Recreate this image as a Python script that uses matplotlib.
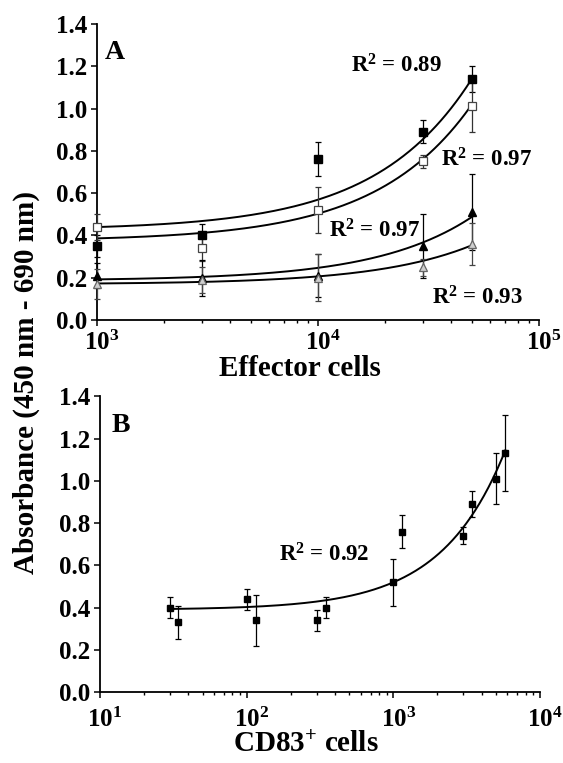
import numpy as np
import matplotlib
matplotlib.use("Agg")
import matplotlib.pyplot as plt
from matplotlib.transforms import ScaledTranslation

plt.rcParams['font.family'] = ['Liberation Serif', 'DejaVu Serif']
plt.rcParams['font.weight'] = 'bold'
plt.rcParams['mathtext.fontset'] = 'custom'
plt.rcParams['mathtext.rm'] = 'Liberation Serif:bold'
plt.rcParams['mathtext.bf'] = 'Liberation Serif:bold'
plt.rcParams['mathtext.it'] = 'Liberation Serif:bold'
plt.rcParams['mathtext.default'] = 'bf'

# ---------------- data: panel A ----------------
effector_cells = [1000, 3000, 10000, 30000, 50000]
sq_filled = [0.35, 0.40, 0.76, 0.89, 1.14]
sq_filled_err = [0.05, 0.055, 0.08, 0.055, 0.06]
sq_open = [0.44, 0.34, 0.52, 0.75, 1.01]
sq_open_err = [0.06, 0.06, 0.11, 0.03, 0.12]
tri_filled = [0.21, 0.20, 0.21, 0.35, 0.51]
tri_filled_err = [0.06, 0.085, 0.10, 0.15, 0.18]
tri_open = [0.17, 0.19, 0.20, 0.25, 0.36]
tri_open_err = [0.07, 0.06, 0.11, 0.04, 0.10]

# linear fits (intercept, slope)
fit_sq_filled = [0.425, 1.44e-5]
fit_sq_open = [0.373, 1.30e-5]
fit_tri_filled = [0.186, 6.06e-6]
fit_tri_open = [0.169, 3.71e-6]

r2_labels_a = ["0.89", "0.97", "0.97", "0.93"]
r2_pos_a = [(14100, 1.20), (35900, 0.757), (11200, 0.423), (32700, 0.104)]

# ---------------- data: panel B ----------------
cd83_cells = [30, 34, 100, 115, 300, 345, 1000, 1150, 3000, 3450, 5000, 5750]
absorb_b = [0.40, 0.33, 0.44, 0.34, 0.34, 0.40, 0.52, 0.76, 0.74, 0.89, 1.01, 1.13]
absorb_b_err = [0.05, 0.08, 0.05, 0.12, 0.05, 0.05, 0.11, 0.08, 0.04, 0.06, 0.12, 0.18]
fit_b = [0.39, 1.30e-4]
fit_b_range = [30, 5800]
r2_label_b = "0.92"
r2_pos_b = (166, 0.649)

yticks = [0.0, 0.2, 0.4, 0.6, 0.8, 1.0, 1.2, 1.4]
xticks_a = [1e3, 1e4, 1e5]
xticklabels_a = [r'$\mathbf{10^{3}}$', r'$\mathbf{10^{4}}$', r'$\mathbf{10^{5}}$']
xticks_b = [1e1, 1e2, 1e3, 1e4]
xticklabels_b = [r'$\mathbf{10^{1}}$', r'$\mathbf{10^{2}}$', r'$\mathbf{10^{3}}$', r'$\mathbf{10^{4}}$']

fig = plt.figure(figsize=(5.63, 7.63), dpi=100)
axA = fig.add_axes([0.1723, 0.5806, 0.785, 0.388])
axB = fig.add_axes([0.1776, 0.0927, 0.7815, 0.388])

TICK_FS = 18
LAB_FS = 21
R2_FS = 16.5


def style_axis(ax, xticks, xlabels, pad_x):
    ax.set_xscale('log')
    for s in ['top', 'right']:
        ax.spines[s].set_visible(False)
    for s in ['left', 'bottom']:
        ax.spines[s].set_linewidth(1.3)
    ax.set_ylim(0, 1.4)
    ax.set_yticks(yticks)
    ax.set_yticklabels([f"{v:.1f}" for v in yticks])
    ax.set_xticks(xticks)
    ax.set_xticklabels(xlabels)
    ax.tick_params(axis='both', which='major', direction='out', length=4, width=1.1,
                   labelsize=TICK_FS)
    ax.tick_params(axis='y', pad=3)
    ax.tick_params(axis='x', pad=pad_x)
    ax.tick_params(axis='x', which='minor', direction='out', length=2.5, width=1.0)
    for lab in ax.get_xticklabels():
        lab.set_transform(lab.get_transform() + ScaledTranslation(0.05, 0, fig.dpi_scale_trans))


# ---------------- panel A ----------------
series = [
    (sq_filled, sq_filled_err, fit_sq_filled, dict(marker='s', ms=5.5, mfc='black', mec='black'), 'black'),
    (sq_open, sq_open_err, fit_sq_open, dict(marker='s', ms=5.5, mfc='white', mec='#444444', mew=0.9), '#333333'),
    (tri_filled, tri_filled_err, fit_tri_filled, dict(marker='^', ms=6, mfc='black', mec='black'), 'black'),
    (tri_open, tri_open_err, fit_tri_open, dict(marker='^', ms=6, mfc='#cfcfcf', mec='#666666', mew=0.9), '#444444'),
]
xfit_a = np.logspace(np.log10(effector_cells[0]), np.log10(effector_cells[-1]), 300)
for vals, errs, fit, mstyle, ecol in series:
    axA.plot(xfit_a, fit[0] + fit[1] * xfit_a, color='black', lw=1.4, zorder=2)
    axA.errorbar(effector_cells, vals, yerr=errs, fmt='none', ecolor=ecol, elinewidth=0.9,
                 capsize=2, capthick=0.9, zorder=3, clip_on=False)
    axA.plot(effector_cells, vals, ls='none', zorder=4, clip_on=False, **mstyle)

axA.set_xlim(1e3, 1e5)
style_axis(axA, xticks_a, xticklabels_a, 4)
axA.set_xlabel('Effector cells', fontsize=LAB_FS, fontweight='bold', labelpad=0)
axA.xaxis.label.set_x(0.46)
for lab, (x, y) in zip(r2_labels_a, r2_pos_a):
    axA.text(x, y, r'R$^{2}$ = ' + lab, fontsize=R2_FS, fontweight='bold', ha='left', va='center')
axA.text(0.018, 0.905, 'A', transform=axA.transAxes, fontsize=20, fontweight='bold',
         ha='left', va='center')

# ---------------- panel B ----------------
xfit_b = np.logspace(np.log10(fit_b_range[0]), np.log10(fit_b_range[1]), 300)
axB.plot(xfit_b, fit_b[0] + fit_b[1] * xfit_b, color='black', lw=1.4, zorder=2)
axB.errorbar(cd83_cells, absorb_b, yerr=absorb_b_err, fmt='none', ecolor='black',
             elinewidth=0.9, capsize=2, capthick=0.9, zorder=3)
axB.plot(cd83_cells, absorb_b, ls='none', marker='s', ms=5, mfc='black', mec='black', zorder=4)
axB.set_xlim(1e1, 1e4)
style_axis(axB, xticks_b, xticklabels_b, 7)
axB.set_xlabel(r'CD83$^{+}$ cells', fontsize=LAB_FS, fontweight='bold', labelpad=-1)
axB.xaxis.label.set_x(0.467)
axB.text(r2_pos_b[0], r2_pos_b[1], r'R$^{2}$ = ' + r2_label_b, fontsize=R2_FS,
         fontweight='bold', ha='left', va='center')
axB.text(0.027, 0.90, 'B', transform=axB.transAxes, fontsize=20, fontweight='bold',
         ha='left', va='center')

fig.text(0.046, 0.499, 'Absorbance (450 nm - 690 nm)', rotation=90, fontsize=LAB_FS,
         fontweight='bold', ha='center', va='center')

fig.savefig('out.png', dpi=100)
